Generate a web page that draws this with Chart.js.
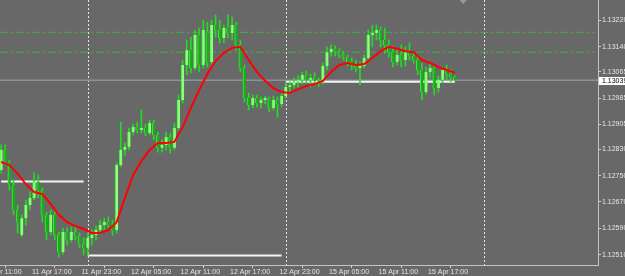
<!DOCTYPE html>
<html>
<head>
<meta charset="utf-8">
<script src="https://cdn.jsdelivr.net/npm/chart.js@4.4.1/dist/chart.umd.min.js"></script>
<style>
  html, body { margin: 0; padding: 0; background: #686868; overflow: hidden; }
</style>
</head>
<body>
<canvas id="chart" width="625" height="276"></canvas>
<script>
// x axis: trading hours counted from 11 Apr 11:00 (weekend skipped)
const xTickHours = [0, 6, 12, 18, 24, 30, 36, 42, 48, 54];
const xLabels = ['11 Apr 11:00', '11 Apr 17:00', '11 Apr 23:00', '12 Apr 05:00', '12 Apr 11:00',
  '12 Apr 17:00', '12 Apr 23:00', '15 Apr 05:00', '15 Apr 11:00', '15 Apr 17:00'];
const yTickValues = [1.13220, 1.13140, 1.13065, 1.12985, 1.12905, 1.12830, 1.12750, 1.12670, 1.12590, 1.12510];

// M30 candles, first one at 11 Apr 13:30
const firstBarHour = 2.5;
const open = [
  1.12767, 1.12828, 1.12788, 1.12721, 1.12646, 1.12570, 1.12621, 1.12661, 1.12682, 1.12731,
  1.12706, 1.12631, 1.12579, 1.12631, 1.12570, 1.12518, 1.12579, 1.12555, 1.12579, 1.12567,
  1.12543, 1.12531, 1.12561, 1.12570, 1.12585, 1.12600, 1.12609, 1.12597, 1.12585, 1.12782,
  1.12828, 1.12837, 1.12882, 1.12897, 1.12888, 1.12894, 1.12879, 1.12909, 1.12873, 1.12834,
  1.12843, 1.12867, 1.12834, 1.12894, 1.12979, 1.13085, 1.13130, 1.13076, 1.13176, 1.13085,
  1.13182, 1.13094, 1.13206, 1.13191, 1.13167, 1.13197, 1.13182, 1.13206, 1.13146, 1.13076,
  1.12985, 1.12964, 1.12985, 1.12970, 1.12979, 1.12985, 1.12955, 1.12979, 1.12967, 1.12991,
  1.13018, 1.13024, 1.13034, 1.13040, 1.13055, 1.13040, 1.13046, 1.13037, 1.13034, 1.13082,
  1.13124, 1.13134, 1.13127, 1.13115, 1.13109, 1.13094, 1.13088, 1.13076, 1.13082, 1.13106,
  1.13176, 1.13182, 1.13191, 1.13161, 1.13146, 1.13124, 1.13094, 1.13115, 1.13100, 1.13124,
  1.13112, 1.13100, 1.13070, 1.13003, 1.13064, 1.13076, 1.13015, 1.13040, 1.13070, 1.13058,
  1.13049];
const high = [
  1.12843, 1.12843, 1.12797, 1.12737, 1.12661, 1.12631, 1.12676, 1.12700, 1.12758, 1.12752,
  1.12712, 1.12640, 1.12646, 1.12640, 1.12579, 1.12591, 1.12591, 1.12594, 1.12597, 1.12576,
  1.12561, 1.12576, 1.12585, 1.12597, 1.12615, 1.12621, 1.12625, 1.12615, 1.12788, 1.12912,
  1.12849, 1.12894, 1.12906, 1.12912, 1.12949, 1.12906, 1.12918, 1.12918, 1.12882, 1.12858,
  1.12882, 1.12879, 1.12909, 1.12994, 1.13100, 1.13161, 1.13170, 1.13191, 1.13197, 1.13221,
  1.13215, 1.13221, 1.13237, 1.13221, 1.13206, 1.13237, 1.13230, 1.13215, 1.13161, 1.13085,
  1.13000, 1.12994, 1.12994, 1.12988, 1.12991, 1.12988, 1.12991, 1.12988, 1.13000, 1.13031,
  1.13034, 1.13046, 1.13052, 1.13064, 1.13067, 1.13058, 1.13061, 1.13046, 1.13091, 1.13140,
  1.13146, 1.13143, 1.13134, 1.13127, 1.13115, 1.13106, 1.13100, 1.13094, 1.13115, 1.13191,
  1.13206, 1.13206, 1.13200, 1.13197, 1.13161, 1.13140, 1.13130, 1.13146, 1.13140, 1.13152,
  1.13121, 1.13109, 1.13091, 1.13079, 1.13091, 1.13085, 1.13052, 1.13079, 1.13085, 1.13070,
  1.13052];
const low = [
  1.12758, 1.12782, 1.12706, 1.12631, 1.12576, 1.12564, 1.12600, 1.12646, 1.12676, 1.12682,
  1.12609, 1.12555, 1.12570, 1.12555, 1.12503, 1.12512, 1.12540, 1.12549, 1.12555, 1.12531,
  1.12509, 1.12506, 1.12540, 1.12555, 1.12573, 1.12585, 1.12591, 1.12570, 1.12576, 1.12776,
  1.12812, 1.12828, 1.12873, 1.12879, 1.12879, 1.12870, 1.12873, 1.12858, 1.12821, 1.12821,
  1.12828, 1.12818, 1.12828, 1.12888, 1.12970, 1.13055, 1.13061, 1.13070, 1.13064, 1.13076,
  1.13079, 1.13088, 1.13170, 1.13152, 1.13152, 1.13167, 1.13161, 1.13130, 1.13064, 1.12973,
  1.12949, 1.12955, 1.12958, 1.12955, 1.12967, 1.12943, 1.12949, 1.12927, 1.12958, 1.12985,
  1.13006, 1.13015, 1.13018, 1.13027, 1.13031, 1.13018, 1.13027, 1.13021, 1.13027, 1.13070,
  1.13112, 1.13112, 1.13106, 1.13100, 1.13082, 1.13070, 1.13064, 1.13024, 1.13076, 1.13100,
  1.13140, 1.13161, 1.13140, 1.13121, 1.13109, 1.13079, 1.13085, 1.13079, 1.13082, 1.13100,
  1.13091, 1.13055, 1.12979, 1.12997, 1.13046, 1.12994, 1.13003, 1.13031, 1.13040, 1.13034,
  1.13037];
const close = [
  1.12828, 1.12791, 1.12721, 1.12646, 1.12609, 1.12621, 1.12661, 1.12682, 1.12731, 1.12706,
  1.12631, 1.12579, 1.12631, 1.12570, 1.12518, 1.12579, 1.12555, 1.12579, 1.12567, 1.12543,
  1.12531, 1.12561, 1.12570, 1.12585, 1.12600, 1.12609, 1.12597, 1.12585, 1.12782, 1.12828,
  1.12837, 1.12882, 1.12897, 1.12888, 1.12894, 1.12879, 1.12909, 1.12873, 1.12834, 1.12843,
  1.12867, 1.12834, 1.12894, 1.12979, 1.13085, 1.13130, 1.13076, 1.13176, 1.13085, 1.13191,
  1.13094, 1.13206, 1.13191, 1.13167, 1.13197, 1.13182, 1.13206, 1.13146, 1.13076, 1.12985,
  1.12964, 1.12985, 1.12970, 1.12979, 1.12985, 1.12955, 1.12979, 1.12967, 1.12991, 1.13018,
  1.13024, 1.13034, 1.13040, 1.13055, 1.13040, 1.13046, 1.13037, 1.13034, 1.13082, 1.13124,
  1.13134, 1.13127, 1.13115, 1.13109, 1.13094, 1.13088, 1.13076, 1.13082, 1.13106, 1.13176,
  1.13182, 1.13191, 1.13161, 1.13146, 1.13124, 1.13094, 1.13115, 1.13100, 1.13124, 1.13112,
  1.13100, 1.13070, 1.13003, 1.13064, 1.13076, 1.13015, 1.13040, 1.13070, 1.13058, 1.13049,
  1.13039];

// red moving average, read once per hour
const maValues = [
  1.12791, 1.12782, 1.12755, 1.12724, 1.12700, 1.12694, 1.12664, 1.12631, 1.12609, 1.12597,
  1.12588, 1.12576, 1.12576, 1.12585, 1.12609, 1.12682, 1.12752, 1.12794, 1.12828, 1.12849,
  1.12849, 1.12852, 1.12897, 1.12955, 1.13009, 1.13058, 1.13097, 1.13121, 1.13137, 1.13140,
  1.13100, 1.13064, 1.13037, 1.13015, 1.13003, 1.13000, 1.13012, 1.13021, 1.13027, 1.13037,
  1.13064, 1.13085, 1.13091, 1.13085, 1.13088, 1.13106, 1.13127, 1.13140, 1.13134, 1.13127,
  1.13124, 1.13100, 1.13091, 1.13079, 1.13070, 1.13061];

// horizontal levels
const greenLevels = [1.13184, 1.13124];
const dayLevels = [1.12732, 1.12508, 1.13034];
const dayRanges = [[2.5, 12.5], [13, 36.5], [37, 57.5]];
const separators = [13, 37, 61];

const xMin = 2.364, xMax = 74.85, levelEnd = 74.45;
const yMin = 1.12479, yMax = 1.13282;
const shiftMarkHour = 58.5;
const labelFont = { family: 'Liberation Sans', size: 7 };

const barHours = open.map((_, i) => firstBarHour + i * 0.5);
const maHours = maValues.map((_, i) => firstBarHour + i);
const lastPrice = close[close.length - 1];

const background = {
  id: 'background',
  beforeDraw(chart) {
    const ctx = chart.ctx;
    ctx.save();
    ctx.fillStyle = '#686868';
    ctx.fillRect(0, 0, chart.width, chart.height);
    ctx.restore();
  }
};

// day separators, price label and shift marker
const extras = {
  id: 'extras',
  beforeDatasetsDraw(chart) {
    const { ctx, chartArea: a, scales: { x } } = chart;
    ctx.save();
    ctx.strokeStyle = '#e4e4e4';
    ctx.lineWidth = 1;
    ctx.setLineDash([2, 2]);
    separators.forEach(h => {
      const px = Math.round(x.getPixelForValue(h)) + 0.5;
      ctx.beginPath();
      ctx.moveTo(px, a.top);
      ctx.lineTo(px, a.bottom);
      ctx.stroke();
    });
    ctx.restore();
  },
  afterDraw(chart) {
    const { ctx, chartArea: a, scales: { x, y } } = chart;
    ctx.save();
    const py = Math.round(y.getPixelForValue(lastPrice));
    ctx.fillStyle = '#ffffff';
    ctx.fillRect(a.right + 1, py - 3, chart.width - a.right - 1, 8);
    ctx.fillStyle = '#000000';
    ctx.font = '7px "Liberation Sans"';
    ctx.textBaseline = 'middle';
    ctx.fillText(lastPrice.toFixed(5), a.right + 4, py + 1);
    const mx = x.getPixelForValue(shiftMarkHour);
    ctx.fillStyle = '#8d9db0';
    ctx.beginPath();
    ctx.moveTo(mx - 3.5, 0);
    ctx.lineTo(mx + 3.5, 0);
    ctx.lineTo(mx, 4);
    ctx.closePath();
    ctx.fill();
    ctx.restore();
  }
};

const datasets = [];
greenLevels.forEach(v => datasets.push({
  type: 'line', data: [{ x: xMin, y: v }, { x: levelEnd, y: v }],
  borderColor: '#3cb43c', borderWidth: 1, borderDash: [8, 3, 2, 3], pointRadius: 0, order: 10
}));
datasets.push({
  type: 'line', data: [{ x: xMin, y: lastPrice }, { x: xMax, y: lastPrice }],
  borderColor: '#8a939c', borderWidth: 1.5, pointRadius: 0, order: 9
});
dayLevels.forEach((v, k) => datasets.push({
  type: 'line', data: [{ x: dayRanges[k][0], y: v }, { x: dayRanges[k][1], y: v }],
  borderColor: '#f4f4f4', borderWidth: 2, pointRadius: 0, order: 8
}));
datasets.push({
  type: 'bar', grouped: false, barThickness: 1,
  data: barHours.map((h, i) => ({ x: h, y: [low[i], high[i]] })),
  backgroundColor: '#22dc22', order: 3
});
datasets.push({
  type: 'bar', grouped: false, barThickness: 3, minBarLength: 1,
  data: barHours.map((h, i) => ({ x: h, y: [open[i], close[i]] })),
  backgroundColor: barHours.map((_, i) => close[i] >= open[i] ? '#8cff78' : '#14b014'),
  borderColor: '#3cf03c', borderWidth: { left: 1, right: 0, top: 0, bottom: 0 }, borderSkipped: false,
  order: 2
});
datasets.push({
  type: 'line', data: maHours.map((h, i) => ({ x: h, y: maValues[i] })),
  borderColor: '#ff0000', borderWidth: 2, pointRadius: 0, order: 1
});

new Chart(document.getElementById('chart'), {
  type: 'bar',
  data: { datasets },
  plugins: [background, extras],
  options: {
    responsive: false,
    animation: false,
    events: [],
    layout: { padding: 0 },
    plugins: { legend: { display: false }, tooltip: { enabled: false } },
    scales: {
      x: {
        type: 'linear', min: xMin, max: xMax, offset: false,
        afterBuildTicks: s => { s.ticks = xTickHours.map(v => ({ value: v })); },
        afterFit: s => { s.height = 11; s.paddingLeft = 0; s.paddingRight = 0; },
        ticks: {
          autoSkip: false, maxRotation: 0, minRotation: 0, align: 'start', labelOffset: 2, padding: 0,
          color: '#e6e6e6', font: labelFont,
          callback: v => xLabels[xTickHours.indexOf(v)]
        },
        grid: { drawOnChartArea: false, drawTicks: true, tickLength: 3, color: '#d0d0d0' },
        border: { display: true, color: '#c4c4c4', width: 1 }
      },
      y: {
        position: 'right', min: yMin, max: yMax,
        afterBuildTicks: s => { s.ticks = yTickValues.map(v => ({ value: v })); },
        afterFit: s => { s.width = 27; s.paddingTop = 0; s.paddingBottom = 0; },
        ticks: {
          autoSkip: false, padding: 1, color: '#e6e6e6', font: labelFont,
          callback: v => v.toFixed(5)
        },
        grid: { drawOnChartArea: false, drawTicks: true, tickLength: 3, color: '#d0d0d0' },
        border: { display: true, color: '#c4c4c4', width: 1 }
      }
    }
  }
});
</script>
</body>
</html>
